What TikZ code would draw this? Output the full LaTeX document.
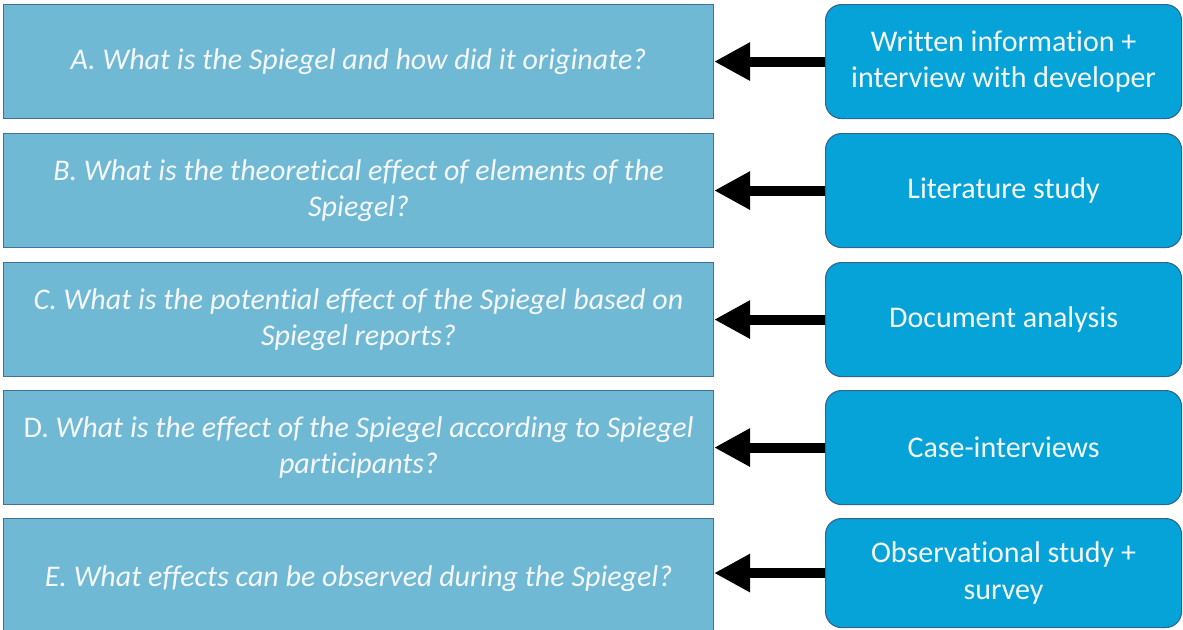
\documentclass[tikz,border=0pt]{standalone}
\usepackage{fontspec}
\setmainfont{Carlito}[Ligatures=NoCommon]
\usetikzlibrary{arrows.meta}
\definecolor{qfill}{RGB}{112,185,213}
\definecolor{qline}{RGB}{65,113,156}
\definecolor{mfill}{RGB}{5,163,216}
\definecolor{mline}{RGB}{47,100,150}
\definecolor{txt}{RGB}{246,248,250}
\tikzset{
  question/.style={draw=qline, line width=1.1pt, fill=qfill, minimum width=710pt,
    minimum height=114pt, inner sep=0pt, align=center, text=txt,
    font=\fontsize{30}{36.5}\selectfont\itshape, anchor=north west},
  method/.style={draw=mline, line width=1.1pt, fill=mfill, rounded corners=16pt,
    minimum width=356pt, minimum height=114pt, inner sep=0pt, align=center, text=txt,
    font=\fontsize{30}{36.5}\selectfont, anchor=north west},
  link/.style={line width=10pt, -{Triangle[length=36pt,width=36pt]}}
}
\begin{document}
\begin{tikzpicture}[x=1pt,y=-1pt]
\fill[white] (0,0) rectangle (1183,629);
\useasboundingbox (0,0) rectangle (1183,629);
\clip (0,0) rectangle (1183,629);
% research questions
\node[question] (qa) at (3,4) {A. What is the Spiegel and how did it originate?};
\node[question] (qb) at (3,133) {B. What is the theoretical effect of elements of the\\Spiegel?};
\node[question] (qc) at (3,262) {C. What is the potential effect of the Spiegel based on\\Spiegel reports?};
\node[question] (qd) at (3,390) {\upshape D. \itshape What is the effect of the Spiegel according to Spiegel\\participants?};
\node[question, minimum height=120pt] (qe) at (3,518) {E. What effects can be observed during the Spiegel?};
% methods
\node[method] (ma) at (825,4) {Written information +\\interview with developer};
\node[method] (mb) at (825,133) {Literature study};
\node[method] (mc) at (825,262) {Document analysis};
\node[method] (md) at (825,390) {Case-interviews};
\node[method, minimum height=109pt] (me) at (825,518) {Observational study +\\survey};
% connectors
\draw[link] (ma.west) -- (qa.east);
\draw[link] (mb.west) -- (qb.east);
\draw[link] (mc.west) -- (qc.east);
\draw[link] (md.west) -- (qd.east);
\draw[link] (me.west) -- (qe.east |- me.west);
\end{tikzpicture}
\end{document}
